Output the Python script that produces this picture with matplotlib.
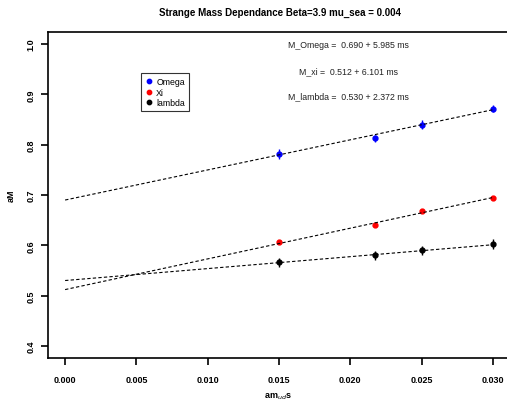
import matplotlib
matplotlib.use("Agg")
import matplotlib.pyplot as plt
import numpy as np

plt.rcParams['font.family'] = ['Liberation Sans', 'DejaVu Sans']

ms = [0.015, 0.0217, 0.025, 0.030]
omega = [0.782, 0.8125, 0.840, 0.871]
omega_err = [0.010, 0.007, 0.009, 0.007]
xi = [0.606, 0.641, 0.669, 0.695]
xi_err = [0.004, 0.004, 0.003, 0.003]
lam = [0.566, 0.580, 0.590, 0.602]
lam_err = [0.009, 0.009, 0.009, 0.010]

fit_a = [0.690, 0.512, 0.530]
fit_b = [5.985, 6.101, 2.372]
fit_names = ["M_Omega", "M_xi", "M_lambda"]
fit_text_y = [1.0, 0.947, 0.897]

series = [("Omega", omega, omega_err, "blue"),
          ("Xi", xi, xi_err, "red"),
          ("lambda", lam, lam_err, "black")]

W, H = 507, 402
fig = plt.figure(figsize=(W / 100, H / 100), dpi=100)
ax = fig.add_axes([48 / W, 1 - 359 / H, (510 - 48) / W, (359 - 33) / H])

handles = []
for name, vals, err, col in series:
    ax.errorbar(ms, vals, yerr=err, fmt='none', ecolor=col, elinewidth=1.0, capsize=0)
    h, = ax.plot(ms, vals, 'o', color=col, markersize=3.5, label=name, linestyle='none')
    handles.append(h)

xl = np.array([0.0, 0.030])
for a, b in zip(fit_a, fit_b):
    ax.plot(xl, a + b * xl, linestyle=(0, (3, 2)), color='black', linewidth=0.8)

for nm, a, b, ty in zip(fit_names, fit_a, fit_b, fit_text_y):
    ax.text(0.0199, ty, f"{nm} =  {a:.3f} + {b:.3f} ms", fontsize=6.3,
            ha='center', va='center', color='#222222')

ax.set_xlim(-0.0012, 0.0312)
ax.set_ylim(0.376, 1.024)
ax.set_xticks([0.000, 0.005, 0.010, 0.015, 0.020, 0.025, 0.030])
ax.set_xticklabels(["0.000", "0.005", "0.010", "0.015", "0.020", "0.025", "0.030"],
                   fontsize=6.5, fontweight='bold')
ax.set_yticks([0.4, 0.5, 0.6, 0.7, 0.8, 0.9, 1.0])
ax.set_yticklabels(["0.4", "0.5", "0.6", "0.7", "0.8", "0.9", "1.0"],
                   fontsize=6.5, fontweight='bold', rotation=90, va='center')
ax.tick_params(axis='x', direction='out', length=5, width=1.2, pad=7)
ax.tick_params(axis='y', direction='out', length=5, width=1.2, pad=4)
for sp in ax.spines.values():
    sp.set_linewidth(1.2)

fig.text(278 / W, 1 - 397 / H, "am$_{ud}$s", fontsize=6.5, fontweight='bold',
         ha='center', va='center')
fig.text(11 / W, 1 - 196 / H, "aM", fontsize=6.5, fontweight='bold',
         ha='center', va='center', rotation=90)

fig.text(280 / W, 1 - 13 / H, "Strange Mass Dependance Beta=3.9 mu_sea = 0.004",
         fontsize=7, fontweight='bold', ha='center', va='center')

leg = ax.legend(handles=handles, loc='upper left', bbox_to_anchor=((137 - 48) / 462, 1 - (70 - 33) / 326),
                fontsize=6.3, frameon=True, fancybox=False, edgecolor='black',
                handletextpad=0.3, handlelength=1.0, borderpad=0.4, labelspacing=0.2,
                markerscale=0.9)
leg.get_frame().set_linewidth(0.8)

fig.savefig("out.png", dpi=100)
